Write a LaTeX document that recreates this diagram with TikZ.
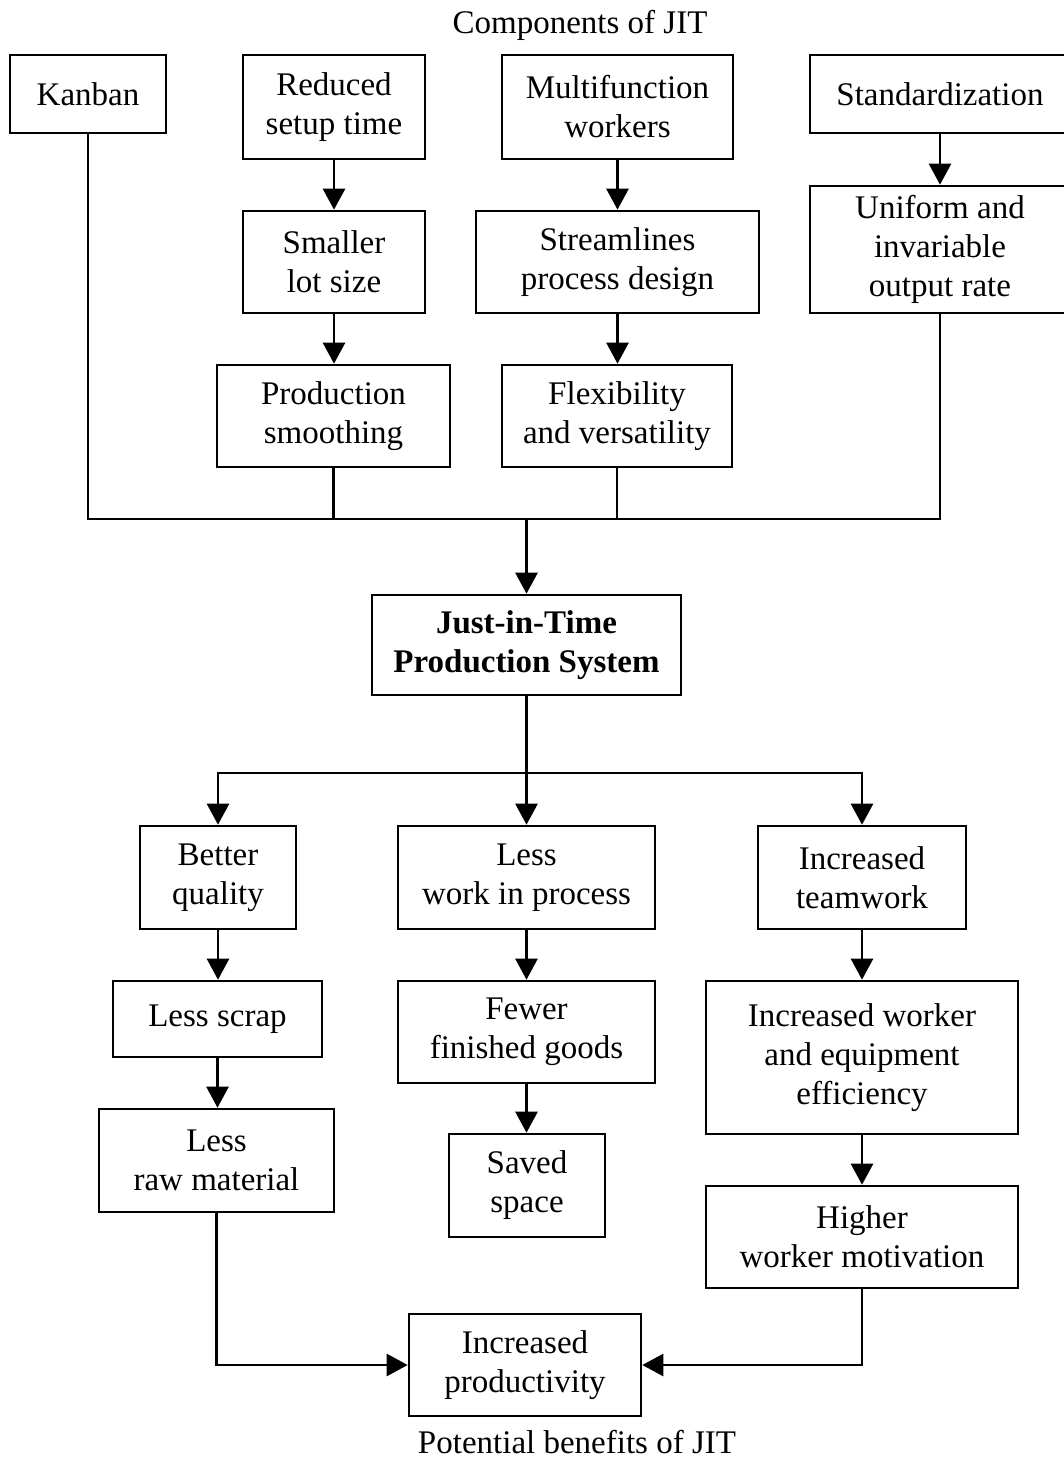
\documentclass[tikz,border=0pt]{standalone}
\usepackage{fontspec}
\setmainfont{Liberation Serif}
\usetikzlibrary{arrows.meta}
\begin{document}
\begin{tikzpicture}[x=0.5pt,y=-0.5pt,
  box/.style={draw,line width=1.3pt,align=center,inner sep=1pt,
    font=\fontsize{16.5pt}{19.5pt}\selectfont},
  lbl/.style={font=\fontsize{16.5pt}{19.5pt}\selectfont,inner sep=0pt},
  ln/.style={line width=1.3pt},
  arr/.style={line width=1.3pt,-{Triangle[length=10.5pt,width=11pt]}}]
\useasboundingbox (0,0) rectangle (1064,1458);
\clip (0,0) rectangle (1064,1458);
% titles
\node[lbl] (top) at (580,25) {Components of JIT};
\node[lbl] (bottom) at (577,1442) {Potential benefits of JIT};
% components
\node[box,minimum width=78pt,minimum height=39pt] (kanban) at (88,94) {Kanban};
\node[box,minimum width=91pt,minimum height=52pt] (reduced) at (334,107) {Reduced\\setup time};
\node[box,minimum width=115.5pt,minimum height=52pt] (multi) at (617.5,107) {Multifunction\\workers};
\node[box,minimum width=130pt,minimum height=39pt] (stand) at (940,94) {Standardization};
\node[box,minimum width=130pt,minimum height=63.5pt] (uniform) at (940,249.5) {Uniform and\\invariable\\output rate};
\node[box,minimum width=91pt,minimum height=51pt] (smaller) at (334,262) {Smaller\\lot size};
\node[box,minimum width=141.5pt,minimum height=51pt] (stream) at (617.5,262) {Streamlines\\process design};
\node[box,minimum width=116.5pt,minimum height=51pt] (prod) at (333.5,416) {Production\\smoothing};
\node[box,minimum width=115pt,minimum height=51pt] (flex) at (617,416) {Flexibility\\and versatility};
% JIT
\node[box,minimum width=154.5pt,minimum height=50pt,font=\fontsize{16.5pt}{19.5pt}\selectfont\bfseries] (jit) at (526.5,645) {Just-in-Time\\Production System};
% benefits
\node[box,minimum width=78pt,minimum height=51.5pt] (better) at (218,877.5) {Better\\quality};
\node[box,minimum width=128.5pt,minimum height=51.5pt] (wip) at (526.5,877.5) {Less\\work in process};
\node[box,minimum width=104pt,minimum height=51.5pt] (team) at (862,877.5) {Increased\\teamwork};
\node[box,minimum width=104.5pt,minimum height=38pt] (scrap) at (217.5,1019) {Less scrap};
\node[box,minimum width=128.5pt,minimum height=51pt] (fewer) at (526.5,1032) {Fewer\\finished goods};
\node[box,minimum width=156pt,minimum height=76.5pt] (eff) at (862,1057.5) {Increased worker\\and equipment\\efficiency};
\node[box,minimum width=117.5pt,minimum height=51.5pt] (raw) at (216.5,1160.5) {Less\\raw material};
\node[box,minimum width=78pt,minimum height=51.5pt] (saved) at (527,1185.5) {Saved\\space};
\node[box,minimum width=156pt,minimum height=51pt] (higher) at (862,1237) {Higher\\worker motivation};
\node[box,minimum width=116pt,minimum height=51pt] (prodv) at (525,1365) {Increased\\productivity};
% upper connectors
\draw[arr] (reduced.south) -- (reduced.south |- smaller.north);
\draw[arr] (smaller.south) -- (smaller.south |- prod.north);
\draw[arr] (multi.south) -- (multi.south |- stream.north);
\draw[arr] (stream.south) -- (stream.south |- flex.north);
\draw[arr] (stand.south) -- (uniform.north);
\coordinate (busL) at (88,519);
\coordinate (busR) at (940,519);
\draw[ln] (kanban.south) -- (busL) -- (busR) -- (uniform.south);
\draw[ln] (prod.south) -- (prod.south |- busL);
\draw[ln] (flex.south) -- (flex.south |- busL);
\draw[arr] (busL -| jit.north) -- (jit.north);
% lower connectors
\coordinate (split) at (526.5,773);
\draw[ln] (jit.south) -- (split);
\draw[arr] (split) -- (wip.north);
\draw[arr] (split) -| (better.north);
\draw[arr] (split) -| (team.north);
\draw[arr] (better.south) -- (better.south |- scrap.north);
\draw[arr] (scrap.south) -- (scrap.south |- raw.north);
\draw[arr] (wip.south) -- (fewer.north);
\draw[arr] (fewer.south) -- (saved.north -| fewer.south);
\draw[arr] (team.south) -- (eff.north);
\draw[arr] (eff.south) -- (higher.north);
\draw[arr] (raw.south) |- (prodv.west);
\draw[arr] (higher.south) |- (prodv.east);
\end{tikzpicture}
\end{document}
